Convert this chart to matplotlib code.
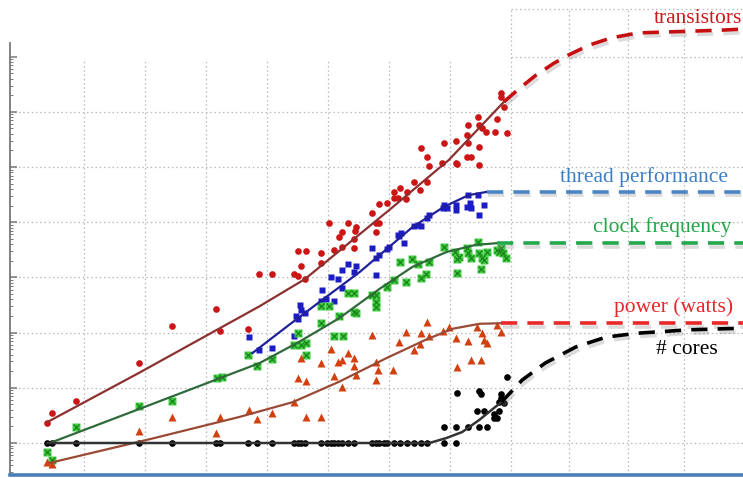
import numpy as np
import matplotlib
matplotlib.use("Agg")
import matplotlib.pyplot as plt
import matplotlib.patheffects as pe

# values: year, log10(value)
tr_year = [1972.0, 1972.4, 1974.3, 1979.5, 1982.2, 1985.8, 1986.1, 1988.4, 1989.3, 1990.4,
           1992.2, 1992.5, 1992.5, 1993.2, 1992.8, 1993.1, 1994.4, 1994.4, 1995.1, 1995.5,
           1996.1, 1995.9, 1996.1, 1996.6, 1997.3, 1997.2, 1997.1, 1997.1, 1998.6, 1998.9,
           1998.9, 1999.2, 1999.2, 1999.8, 2000.4, 2000.4, 2000.9, 2000.7, 2001.4, 2001.5,
           2002.05, 2002.5, 2002.6, 2003.1, 2003.1, 2003.3, 2004.3, 2004.5, 2005.5, 2005.5,
           2005.6, 2006.4, 2006.5, 2006.4, 2006.7, 2006.5, 2007.3, 2007.4, 2007.4, 2007.4,
           2007.6, 2007.9, 2008.7, 2008.8, 2009.2, 2009.2, 2009.7, 2009.4]
tr_log = [0.36, 0.54, 0.76, 1.45, 2.12, 2.43, 2.03, 2.07, 3.06, 3.06,
          3.06, 3.03, 3.48, 3.48, 3.21, 2.97, 3.44, 3.26, 3.99, 3.50,
          3.82, 3.73, 3.55, 3.99, 3.91, 3.84, 3.70, 3.53, 4.17, 3.99,
          3.82, 3.99, 4.33, 4.35, 4.55, 4.44, 4.62, 4.44, 4.42, 4.55,
          4.73, 4.58, 5.34, 5.18, 4.73, 5.02, 5.07, 5.43, 5.47, 5.07,
          5.05, 5.58, 5.43, 5.18, 5.18, 5.76, 5.91, 5.76, 5.36, 5.04,
          5.71, 5.63, 5.63, 5.87, 6.34, 6.27, 5.62, 6.09]

bl_year = [1988.5, 1989.3, 1990.4, 1992.2, 1992.5, 1992.7, 1992.8, 1993.1, 1992.4, 1994.4,
           1995.5, 1994.5, 1994.8, 1995.2, 1995.8, 1996.1, 1996.6, 1996.1, 1997.3, 1997.1,
           1998.6, 1998.9, 1998.9, 1999.2, 1999.8, 2000.0, 2000.8, 2001.2, 2000.7, 2001.0,
           2002.05, 2002.4, 2002.6, 2003.1, 2003.3, 2004.5, 2004.4, 2004.75, 2005.5, 2005.5,
           2006.5, 2006.6, 2006.7, 2006.4, 2007.3, 2007.4, 2007.8]
bl_log = [1.92, 1.68, 1.72, 1.94, 2.25, 2.50, 2.41, 2.36, 2.30, 2.57,
          2.57, 2.77, 2.61, 3.01, 2.97, 3.13, 3.24, 2.81, 3.21, 3.10,
          3.53, 3.04, 3.35, 3.41, 3.51, 3.55, 3.75, 3.62, 3.77, 3.80,
          3.93, 3.95, 3.93, 4.08, 4.13, 4.31, 4.26, 4.26, 4.31, 4.22,
          4.49, 4.35, 4.26, 4.28, 4.49, 4.13, 4.31]

gr_year = [1972.0, 1972.4, 1974.3, 1979.5, 1982.2, 1985.9, 1986.3, 1988.4, 1989.2, 1990.4,
           1992.2, 1992.5, 1992.8, 1993.2, 1993.2, 1994.4, 1994.4, 1995.1, 1995.5, 1996.2,
           1995.9, 1997.1, 1997.3, 1998.9, 1998.9, 1996.6, 1997.1, 1998.6, 1998.9, 1999.8,
           2000.4, 2000.9, 2001.4, 2001.9, 2002.4, 2002.6, 2003.0, 2003.3, 2004.5, 2005.4,
           2005.6, 2005.6, 2005.7, 2006.4, 2006.5, 2006.7, 2007.3, 2007.4, 2007.5, 2007.6,
           2007.8, 2008.0, 2008.8, 2009.0, 2009.2, 2009.3, 2009.6]
gr_log = [-0.16, -0.31, 0.29, 0.67, 0.76, 1.18, 1.20, 1.59, 1.39, 1.52,
          1.78, 1.99, 1.78, 1.81, 1.59, 2.17, 2.48, 2.48, 1.94, 1.94,
          2.30, 2.37, 2.36, 2.46, 2.55, 2.72, 2.72, 2.68, 2.68, 2.83,
          2.95, 3.28, 2.92, 3.33, 3.24, 2.99, 3.06, 3.28, 3.55, 3.46,
          3.33, 3.08, 3.37, 3.53, 3.44, 3.35, 3.64, 3.44, 3.15, 3.35,
          3.32, 3.46, 3.50, 3.46, 3.53, 3.44, 3.35]

pw_year = [1972.0, 1972.4, 1979.5, 1982.2, 1985.8, 1986.1, 1988.5, 1989.2, 1990.4, 1992.2,
           1992.5, 1993.2, 1992.8, 1993.2, 1994.4, 1994.4, 1995.2, 1995.5, 1995.8, 1996.1,
           1996.1, 1996.6, 1997.1, 1997.1, 1997.3, 1998.6, 1998.9, 1999.1, 1998.9, 2000.3,
           2000.8, 2001.4, 2002.0, 2002.6, 2002.5, 2003.1, 2003.3, 2004.4, 2004.9, 2005.5,
           2005.6, 2006.5, 2006.7, 2007.2, 2007.5, 2007.6, 2007.8, 2008.0, 2008.8, 2009.2]
pw_log = [-0.34, -0.38, 0.22, 0.47, 0.18, 0.47, 0.60, 0.43, 0.54, 0.74,
          1.18, 1.12, 1.54, 0.47, 0.47, 1.45, 1.70, 1.21, 1.47, 1.50,
          1.01, 1.63, 1.54, 1.39, 1.23, 1.96, 1.47, 1.32, 1.14, 1.32,
          1.83, 2.01, 1.68, 1.99, 1.79, 2.19, 1.94, 2.03, 2.10, 1.90,
          1.38, 1.85, 1.50, 2.10, 1.50, 1.99, 1.87, 1.81, 2.14, 2.01]

cr_year = [1972.0, 1972.4, 1974.3, 1979.5, 1982.2, 1985.8, 1986.1, 1988.4, 1989.2, 1990.4,
           1992.2, 1992.5, 1992.8, 1993.1, 1994.4, 1994.9, 1995.2, 1995.5, 1995.8, 1996.1,
           1996.6, 1997.1, 1998.6, 1998.9, 1999.2, 1999.6, 1999.8, 2000.4, 2000.9, 2001.5,
           2002.05, 2002.6, 2003.1, 2004.5, 2005.5,
           2004.5, 2005.5, 2006.5, 2007.4, 2008.0, 2005.6, 2007.4, 2007.5, 2007.2, 2007.8,
           2008.6, 2008.8, 2008.6, 2009.0, 2009.0, 2009.2, 2009.2, 2009.7, 2009.4]
cr_log = [0.0, 0.0, 0.0, 0.0, 0.0, 0.0, 0.0, 0.0, 0.0, 0.0,
          0.0, 0.0, 0.0, 0.0, 0.0, 0.0, 0.0, 0.0, 0.0, 0.0,
          0.0, 0.0, 0.0, 0.0, 0.0, 0.0, 0.0, 0.0, 0.0, 0.0,
          0.0, 0.0, 0.0, 0.0, 0.0,
          0.29, 0.29, 0.29, 0.29, 0.29, 0.91, 0.94, 0.89, 0.58, 0.58,
          0.53, 0.45, 0.45, 0.58, 0.74, 0.82, 0.89, 1.20, 0.72]

# trend lines (solid) and projections (dashed)
tr_fit_year = [1972.0, 1979.5, 1989.4, 1993.1, 2000.0, 2004.9, 2009.4]
tr_fit_log = [0.38, 1.27, 2.48, 2.97, 4.22, 5.13, 6.18]
tr_proj_year = [2009.4, 2010.6, 2012.0, 2013.5, 2014.7, 2016.4, 2018.2, 2020.4, 2023.1, 2027.2, 2029.0]
tr_proj_log = [6.18, 6.41, 6.66, 6.88, 7.03, 7.21, 7.34, 7.43, 7.45, 7.48, 7.50]

bl_fit_year = [1988.8, 1991.8, 1994.5, 1997.6, 2001.9, 2004.5, 2006.5, 2008.0]
bl_fit_log = [1.63, 2.14, 2.59, 3.10, 3.91, 4.28, 4.49, 4.55]
bl_proj_year = [2008.0, 2029.0]
bl_proj_log = [4.55, 4.55]

gr_fit_year = [1972.2, 1980.4, 1989.4, 1992.6, 1995.9, 1999.2, 2001.9, 2004.7, 2007.1, 2008.8]
gr_fit_log = [0.0, 0.69, 1.45, 1.83, 2.26, 2.79, 3.19, 3.46, 3.59, 3.62]
gr_proj_year = [2008.8, 2029.0]
gr_proj_log = [3.62, 3.62]

pw_fit_year = [1972.2, 1980.4, 1987.7, 1992.1, 1995.9, 1999.8, 2003.0, 2005.2, 2007.4, 2009.2]
pw_fit_log = [-0.36, 0.07, 0.47, 0.74, 1.11, 1.54, 1.87, 2.07, 2.16, 2.17]
pw_proj_year = [2009.2, 2029.0]
pw_proj_log = [2.17, 2.17]

cr_fit_year = [1972.0, 2003.3, 2004.7, 2006.0, 2007.4, 2008.4, 2009.2]
cr_fit_log = [0.0, 0.0, 0.09, 0.20, 0.42, 0.60, 0.74]
cr_proj_year = [2009.2, 2010.9, 2012.8, 2015.3, 2017.8, 2020.4, 2024.5, 2029.0]
cr_proj_log = [0.74, 1.14, 1.45, 1.74, 1.92, 1.99, 2.05, 2.08]

grid_years = [1975, 1980, 1985, 1990, 1995, 2000, 2005]
grid_years_right = [2010, 2014.7, 2019.6, 2024.2]


def p10(v):
    return 10.0 ** np.asarray(v)


X0, X1 = 1968.93, 2029.0
YB, YT = -0.58, 7.9

fig = plt.figure(figsize=(7.43, 4.78), dpi=100)
ax = fig.add_axes([10 / 743, 3 / 478, 733 / 743, 468 / 478])
ax.set_yscale('log')
ax.set_xlim(X0, X1)
ax.set_ylim(10 ** YB, 10 ** YT)

# dotted grid
gkw = dict(color='#b8b8b8', lw=0.9, linestyle=(0, (1.2, 2.2)), zorder=0)
ax.vlines(grid_years, 10 ** YB, 10 ** 6.94, **gkw)
ax.vlines(grid_years_right, 10 ** YB, 10 ** 7.87, **gkw)
ax.hlines(p10(np.arange(0, 7)), X0, X1, **gkw)
ax.hlines([1e7, 10 ** 7.87], 2010, X1, **gkw)

# spines and ticks
ax.spines['top'].set_visible(False)
ax.spines['right'].set_visible(False)
ax.spines['left'].set_color('#777777')
ax.spines['left'].set_linewidth(1.3)
ax.spines['left'].set_bounds(10 ** YB, 10 ** 7.25)
ax.spines['bottom'].set_color('#4a7ebb')
ax.spines['bottom'].set_linewidth(2.6)
ax.set_xticks([])
ax.set_yticks(p10(np.arange(0, 8)))
minor = [k * 10.0 ** n for n in range(-1, 7) for k in range(2, 10)]
ax.set_yticks([m for m in minor if m > 10 ** YB], minor=True)
ax.tick_params(axis='y', which='major', direction='in', length=5, width=1.1,
               color='#777777', labelleft=False)
ax.tick_params(axis='y', which='minor', direction='in', length=2.5, width=0.7,
               color='#777777', labelleft=False)

# scatter data
ax.plot(tr_year, p10(tr_log), 'o', color='#cc1616', ms=4.8, mec='none', zorder=3)
ax.plot(bl_year, p10(bl_log), 's', color='#1c1cc4', ms=4.0, mec='none', zorder=3)
ax.plot(gr_year, p10(gr_log), 's', color='#44d044', ms=5.4, mec='none', zorder=3)
ax.plot(gr_year, p10(gr_log), 'x', color='#1d8a1d', ms=3.8, mew=1.0, zorder=3)
ax.plot(pw_year, p10(pw_log), '^', color='#d2400f', ms=5.4, mec='none', zorder=3)
ax.plot(cr_year, p10(cr_log), 'o', color='black', ms=4.8, mec='none', zorder=3)

# trend lines
ax.plot(tr_fit_year, p10(tr_fit_log), color='#8c3030', lw=1.6, zorder=4)
ax.plot(bl_fit_year, p10(bl_fit_log), color='#20209a', lw=1.6, zorder=4)
ax.plot(gr_fit_year, p10(gr_fit_log), color='#2f6a3a', lw=1.6, zorder=4)
ax.plot(pw_fit_year, p10(pw_fit_log), color='#9a4a34', lw=1.6, zorder=4)
ax.plot(cr_fit_year, p10(cr_fit_log), color='#333333', lw=1.8, zorder=4)

# projections with a soft shadow
shadow = [pe.SimpleLineShadow(offset=(1.2, -2.5), shadow_color='#888888', alpha=0.3), pe.Normal()]
dkw = dict(lw=2.6, dashes=(4.5, 2.8), path_effects=shadow, zorder=5)
ax.plot(tr_proj_year, p10(tr_proj_log), color='#c41010', **dkw)
ax.plot(bl_proj_year, p10(bl_proj_log), color='#4a86c6', **dkw)
ax.plot(gr_proj_year, p10(gr_proj_log), color='#22a84a', **dkw)
ax.plot(pw_proj_year, p10(pw_proj_log), color='#e82828', **dkw)
ax.plot(cr_proj_year, p10(cr_proj_log), color='black', **dkw)

# labels
tkw = dict(ha='right', va='center', fontsize=15.5, family=['Liberation Serif', 'DejaVu Serif'], zorder=6)
ax.text(2028.9, 10 ** 7.70, 'transistors', color='#cc1a1a', **tkw)
ax.text(2027.8, 10 ** 4.82, 'thread performance', color='#3c7fc4', **tkw)
ax.text(2028.05, 10 ** 3.91, 'clock frequency', color='#22a547', **tkw)
ax.text(2028.2, 10 ** 2.46, 'power (watts)', color='#e8262a', **tkw)
ax.text(2026.9, 10 ** 1.70, '# cores', color='black', **tkw)

fig.savefig('out.png', dpi=100)
